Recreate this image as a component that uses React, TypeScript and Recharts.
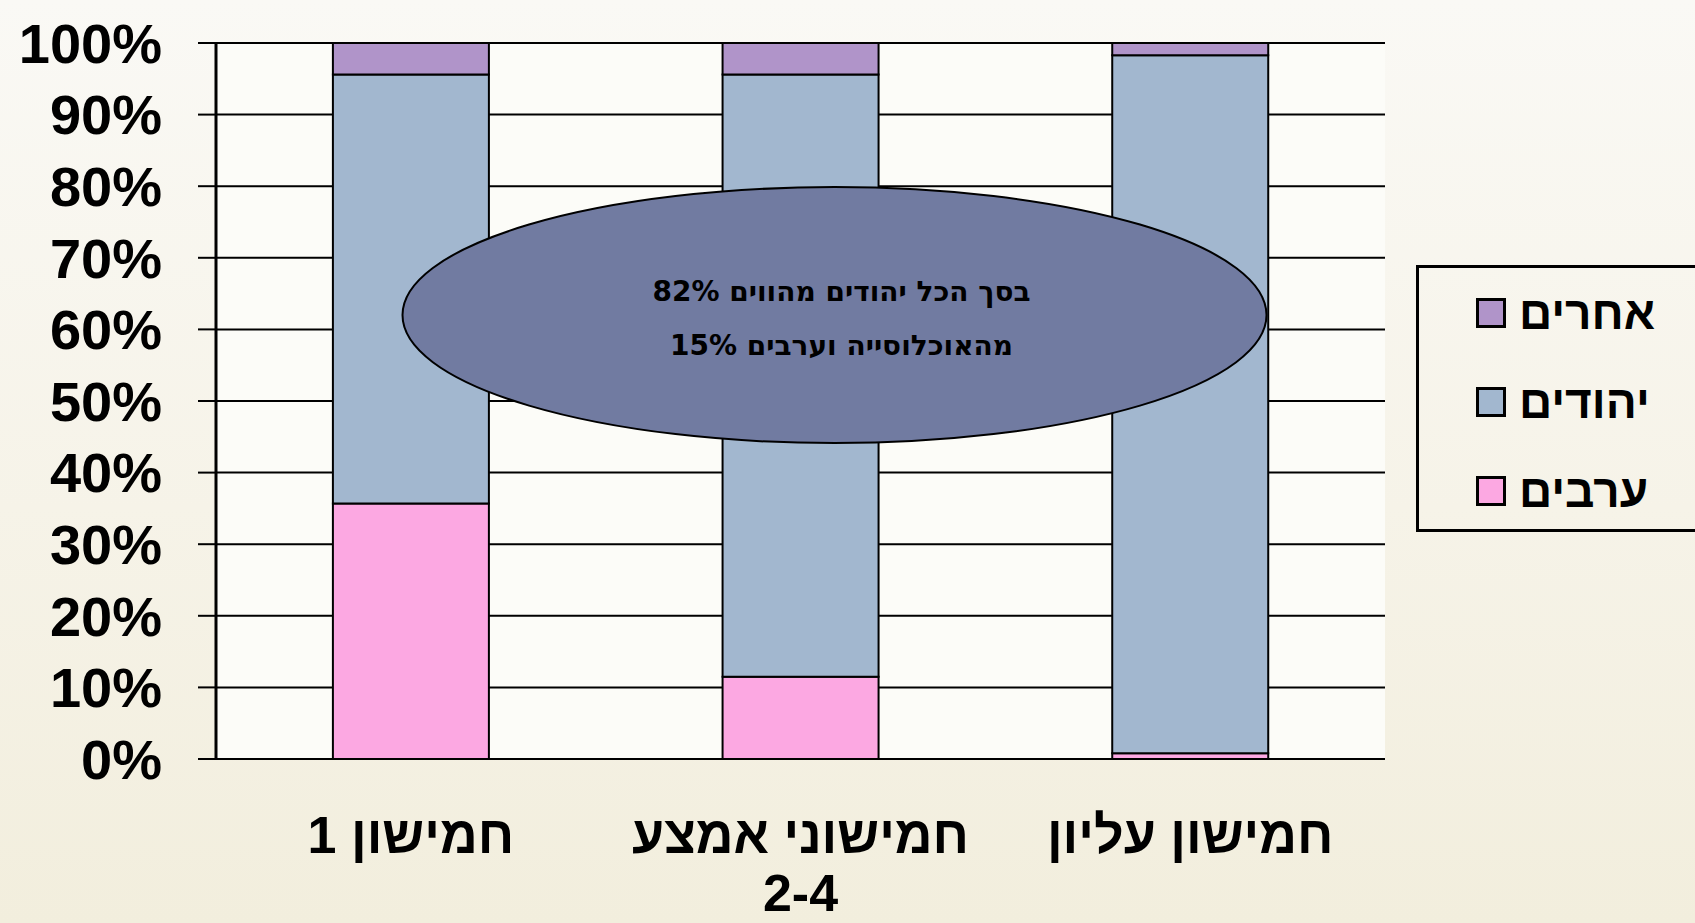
import React from "react";
import {
  BarChart,
  Bar,
  XAxis,
  YAxis,
  CartesianGrid,
  ReferenceDot,
} from "recharts";

const quintiles = ["חמישון 1", "חמישוני אמצע 2-4", "חמישון עליון"];
const arabs = [35.7, 11.5, 0.8];
const jews = [59.9, 84.1, 97.5];
const others = [4.4, 4.4, 1.7];
const yTicks = [0, 10, 20, 30, 40, 50, 60, 70, 80, 90, 100];
const edgeTicks = [0, 1, 2, 3];
const calloutLines = ["בסך הכל יהודים מהווים 82%", "מהאוכלוסייה וערבים 15%"];
const calloutAt = { quintile: quintiles[1], value: 62 };

const series = [
  { key: "arabs", name: "ערבים", color: "#fca8e2" },
  { key: "jews", name: "יהודים", color: "#a2b7cf" },
  { key: "others", name: "אחרים", color: "#b094c9" },
];

const data = quintiles.map((q, i) => ({
  q,
  arabs: arabs[i],
  jews: jews[i],
  others: others[i],
}));

const W = 1695;
const H = 923;
const labelFont = "'Liberation Sans', Arial, sans-serif";

const CategoryTick = ({ x, y, payload }: any) => {
  const words = String(payload.value).split(" ");
  const lines =
    words.length > 2
      ? [words.slice(0, -1).join(" "), words[words.length - 1]]
      : [payload.value];
  return (
    <g>
      {lines.map((l: string, i: number) => (
        <text
          key={i}
          x={x}
          y={y + 76 + i * 58}
          textAnchor="middle"
          dominantBaseline="central"
          direction="rtl"
          fontSize={52}
          fontWeight="bold"
          fontFamily={labelFont}
          fill="#000"
        >
          {l}
        </text>
      ))}
    </g>
  );
};

const Callout = ({ cx, cy }: any) => {
  if (cx == null || cy == null) return null;
  return (
    <g>
      <ellipse
        cx={cx + 34}
        cy={cy}
        rx={432}
        ry={128}
        fill="#717ba1"
        stroke="#000"
        strokeWidth={2}
      />
      {calloutLines.map((l, i) => (
        <text
          key={i}
          x={cx + 41}
          y={cy - 24 + i * 54}
          textAnchor="middle"
          dominantBaseline="central"
          direction="rtl"
          fontSize={28}
          fontWeight="bold"
          fontFamily="'DejaVu Sans', sans-serif"
          fill="#000"
        >
          {l}
        </text>
      ))}
    </g>
  );
};

export default function App() {
  const legendItems = [...series].reverse();
  return (
    <div
      style={{
        position: "absolute",
        left: 0,
        top: 0,
        width: W,
        height: H,
        overflow: "hidden",
        background: "linear-gradient(180deg, #faf9f5 0%, #f6f3e8 55%, #f2eedd 100%)",
      }}
    >
      <BarChart
        width={W}
        height={H}
        data={data}
        margin={{ top: 43, right: 310, bottom: 0, left: 0 }}
        barCategoryGap="30%"
      >
        <CartesianGrid
          xAxisId="cat"
          vertical={false}
          stroke="#000"
          strokeWidth={2}
          fill="#fcfcf8"
          fillOpacity={1}
        />
        <XAxis
          xAxisId="edges"
          type="number"
          domain={[0, 3]}
          ticks={edgeTicks}
          tick={false}
          tickSize={18}
          tickLine={{ stroke: "#000", strokeWidth: 2 }}
          axisLine={{ stroke: "#000", strokeWidth: 4 }}
          height={0}
        />
        <XAxis
          xAxisId="cat"
          dataKey="q"
          type="category"
          tick={<CategoryTick />}
          tickLine={false}
          axisLine={false}
          tickSize={0}
          tickMargin={0}
          height={164}
          interval={0}
        />
        <YAxis
          domain={[0, 100]}
          ticks={yTicks}
          tickFormatter={(v) => `${v}%`}
          width={216}
          tickSize={18}
          tickMargin={36}
          tickLine={{ stroke: "#000", strokeWidth: 2 }}
          axisLine={{ stroke: "#000", strokeWidth: 3 }}
          tick={{
            fill: "#000",
            fontSize: 56,
            fontWeight: "bold",
            fontFamily: labelFont,
          }}
          interval={0}
        />
        <YAxis
          yAxisId="frame"
          orientation="right"
          domain={[0, 100]}
          width={0}
          tick={false}
          tickLine={false}
          axisLine={{ stroke: "#000", strokeWidth: 2 }}
        />
        {series.map((s) => (
          <Bar
            key={s.key}
            xAxisId="cat"
            dataKey={s.key}
            name={s.name}
            stackId="a"
            fill={s.color}
            stroke="#000"
            strokeWidth={2}
            isAnimationActive={false}
          />
        ))}
        <ReferenceDot
          xAxisId="cat"
          x={calloutAt.quintile}
          y={calloutAt.value}
          r={0}
          shape={<Callout />}
          ifOverflow="visible"
        />
      </BarChart>
      <div
        style={{
          position: "absolute",
          left: 1416,
          top: 265,
          width: 300,
          height: 267,
          border: "3px solid #000",
          boxSizing: "border-box",
          paddingTop: 0,
        }}
      >
        {legendItems.map((s) => (
          <div
            key={s.key}
            style={{
              display: "flex",
              alignItems: "center",
              height: 89,
              paddingLeft: 57,
            }}
          >
            <span
              style={{
                display: "inline-block",
                width: 24,
                height: 24,
                border: "3px solid #000",
                background: s.color,
              }}
            />
            <span
              style={{
                marginLeft: 13,
                fontFamily: labelFont,
                fontWeight: "bold",
                fontSize: 46,
                lineHeight: 1,
                color: "#000",
              }}
            >
              {s.name}
            </span>
          </div>
        ))}
      </div>
    </div>
  );
}
